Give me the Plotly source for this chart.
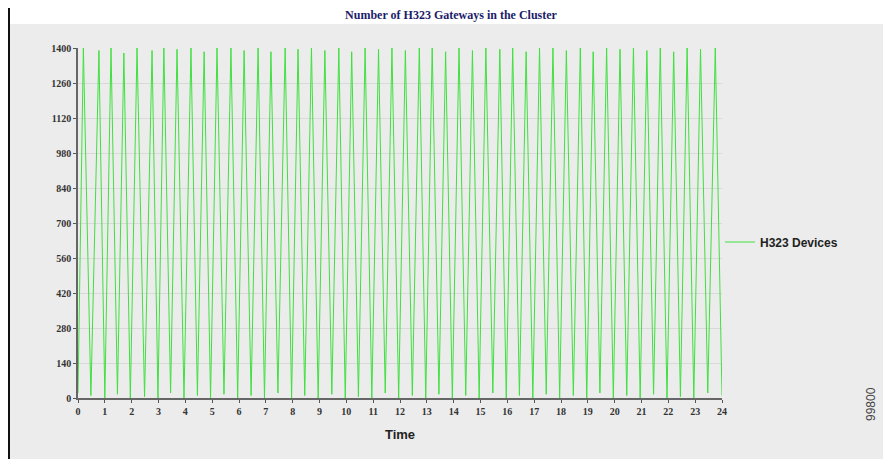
import plotly.graph_objects as go

# Hours (x) and number of H323 devices (y)
time_h = [0.0, 0.2, 0.48, 0.78, 1.0, 1.23, 1.47, 1.71, 1.95, 2.2, 2.48, 2.76, 2.98, 3.2, 3.45, 3.69,
          3.95, 4.21, 4.45, 4.7, 4.94, 5.18, 5.44, 5.7, 5.95, 6.19, 6.45, 6.71, 6.95, 7.19, 7.45, 7.72,
          7.96, 8.2, 8.45, 8.7, 8.95, 9.2, 9.46, 9.72, 9.96, 10.2, 10.45, 10.7, 10.95, 11.2, 11.45, 11.7,
          11.95, 12.2, 12.46, 12.72, 12.96, 13.2, 13.45, 13.7, 13.95, 14.2, 14.45, 14.7, 14.95, 15.2,
          15.46, 15.72, 15.96, 16.2, 16.45, 16.7, 16.95, 17.2, 17.45, 17.7, 17.95, 18.2, 18.46, 18.72,
          18.96, 19.2, 19.45, 19.7, 19.95, 20.2, 20.45, 20.7, 20.95, 21.2, 21.45, 21.7, 21.95, 22.2,
          22.45, 22.7, 22.95, 23.2, 23.47, 23.75, 24.0]
devices = [20, 1400, 10, 1390, 0, 1400, 15, 1380, 0, 1400, 5, 1390, 0, 1400, 20, 1395,
           0, 1400, 10, 1385, 0, 1400, 15, 1400, 0, 1390, 10, 1400, 0, 1385, 20, 1400,
           0, 1395, 10, 1400, 0, 1390, 15, 1400, 0, 1385, 5, 1400, 0, 1395, 20, 1400,
           0, 1390, 10, 1400, 0, 1400, 15, 1385, 0, 1400, 10, 1390, 0, 1400,
           20, 1395, 0, 1400, 10, 1385, 0, 1400, 15, 1400, 0, 1390, 10, 1400,
           0, 1385, 20, 1400, 0, 1395, 10, 1400, 0, 1390, 15, 1400, 0, 1385,
           5, 1400, 0, 1395, 20, 1400, 10]

x_ticks = list(range(0, 25))
y_ticks = [0, 140, 280, 420, 560, 700, 840, 980, 1120, 1260, 1400]

BG = "#ececec"
OFF = 8  # page offset of the figure inside the browser window


# paper-coordinate helpers, in screen pixels (plot area spans px 78..722, py 48..398)
def px(v):
    return (v - 78) / 644.0


def py(v):
    return (398 - v) / 350.0


fig = go.Figure()
fig.add_trace(go.Scatter(
    x=time_h, y=devices, mode="lines", name="<b>H323 Devices</b>",
    line=dict(color="#3fe03f", width=1),
))

fig.add_shape(type="rect", xref="paper", yref="paper",
              x0=px(9), x1=px(900), y0=py(470), y1=py(24),
              fillcolor=BG, line=dict(width=0), layer="below")
fig.add_shape(type="line", xref="paper", yref="paper",
              x0=px(9), x1=px(9), y0=py(470), y1=py(0),
              line=dict(color="#111111", width=2), layer="above")

fig.update_layout(
    width=891, height=459,
    margin=dict(l=78 - OFF, r=891 - 722 + OFF, t=48 - OFF, b=459 - 398 + OFF),
    paper_bgcolor="white",
    plot_bgcolor="rgba(0,0,0,0)",
    showlegend=True,
    title=dict(text="<b>Number of H323 Gateways in the Cluster</b>",
               x=px(451), xanchor="center", xref="paper",
               y=1 - 3 / 459, yanchor="top", yref="container",
               font=dict(family="Liberation Serif", size=12, color="#1c1c6a")),
    legend=dict(x=px(720), y=py(242), xanchor="left", yanchor="middle",
                bgcolor="rgba(0,0,0,0)",
                font=dict(family="Liberation Sans", size=12, color="#222222"),
                itemwidth=30),
    xaxis=dict(range=[0, 24], tickmode="array", tickvals=x_ticks,
               ticktext=[f"<b>{t}</b>" for t in x_ticks],
               tickfont=dict(family="Liberation Serif", size=10, color="#333333"),
               ticks="outside", ticklen=3, tickcolor="#555555",
               showline=True, linecolor="#666666", linewidth=1.5,
               showgrid=False, zeroline=False,
               title=dict(text="<b>Time</b>", standoff=14,
                          font=dict(family="Liberation Sans", size=13, color="#222222"))),
    yaxis=dict(range=[0, 1400], tickmode="array", tickvals=y_ticks,
               ticktext=[f"<b>{t}</b>" for t in y_ticks],
               tickfont=dict(family="Liberation Serif", size=10, color="#333333"),
               ticks="outside", ticklen=3, tickcolor="#555555",
               showline=True, linecolor="#666666", linewidth=1.5,
               showgrid=True, gridcolor="#d9d9d9", gridwidth=1,
               zeroline=False),
)

fig.add_annotation(text="99800", xref="paper", yref="paper",
                   x=px(880), y=py(423), textangle=-90, showarrow=False,
                   font=dict(family="Liberation Sans", size=12, color="#444444"))

fig.write_html("out.html")
